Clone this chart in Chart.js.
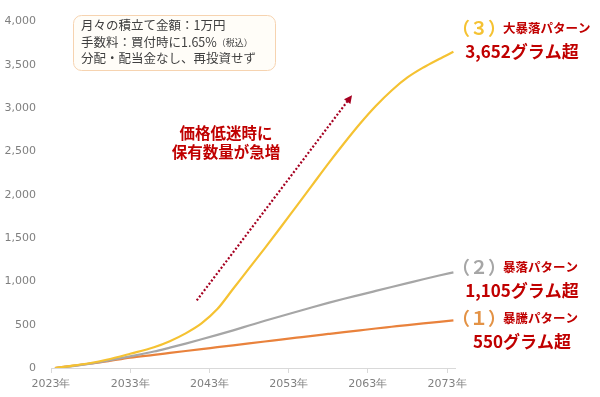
<!DOCTYPE html>
<html>
<head>
<meta charset="utf-8">
<script src="https://cdn.jsdelivr.net/npm/chart.js@4.4.1/dist/chart.umd.min.js"></script>
<style>
  html, body { margin: 0; padding: 0; background: #fff; }
  #wrap { width: 600px; height: 397px; }
</style>
</head>
<body>
<div id="wrap"><canvas id="goldChart" width="600" height="397"></canvas></div>
<script>
// Years (x positions of the readings)
const years = [2023.5, 2026, 2028, 2030, 2033, 2036, 2038, 2040, 2042, 2044, 2046, 2048, 2050,
               2052, 2054, 2056, 2058, 2060, 2062, 2064, 2066, 2068, 2070, 2072, 2073.8];

// Holdings in grams for each pattern
const crashBig = [0, 30, 58, 95, 165, 240, 310, 400, 515, 680, 915, 1150, 1385,
                  1625, 1870, 2115, 2360, 2595, 2820, 3025, 3205, 3355, 3470, 3568, 3652];
const crash    = [0, 25, 50, 82, 135, 190, 235, 282, 332, 383, 435, 490, 545,
                  598, 650, 702, 752, 800, 845, 890, 935, 980, 1025, 1068, 1105];
const surge    = [0, 28, 52, 77, 120, 152, 174, 196, 218, 240, 262, 284, 306,
                  328, 350, 372, 393, 414, 435, 456, 476, 496, 515, 533, 550];

// Axis ticks
const xTicks = [2023, 2033, 2043, 2053, 2063, 2073];
const yMax = 4000;
const yStep = 500;

// Arrow (in data units)
const arrowFrom = { x: 2041.4, y: 780 };
const arrowTo = { x: 2061.0, y: 3150 };

const ctx = document.getElementById('goldChart').getContext('2d');

const toPoints = vals => vals.map((v, i) => ({ x: years[i], y: v }));

const jp = '"Noto Sans CJK JP", sans-serif';

// Draws the note box, the red caption, the arrow and the end labels
const notes = {
    id: 'notes',
    afterDraw(chart) {
        const c = chart.ctx;
        const xs = chart.scales.x, ys = chart.scales.y;
        c.save();

        // conditions box
        c.beginPath();
        c.roundRect(73.5, 15.5, 202, 55, 8);
        c.fillStyle = '#fffdf8';
        c.fill();
        c.strokeStyle = '#f6d3b0';
        c.lineWidth = 1;
        c.stroke();
        c.fillStyle = '#404040';
        c.textBaseline = 'middle';
        c.textAlign = 'left';
        c.font = '12.5px ' + jp;
        c.fillText('月々の積立て金額：1万円', 81, 25);
        c.fillText('手数料：買付時に1.65%', 81, 42);
        c.fillText('分配・配当金なし、再投資せず', 81, 58);
        const w = c.measureText('手数料：買付時に1.65%').width;
        c.font = '9px ' + jp;
        c.fillText('（税込）', 81 + w, 43);

        // red caption
        c.fillStyle = '#c00000';
        c.textAlign = 'center';
        c.font = 'bold 15.5px ' + jp;
        c.fillText('価格低迷時に', 226, 133);
        c.fillText('保有数量が急増', 226, 152);

        // dotted arrow
        const x1 = xs.getPixelForValue(arrowFrom.x), y1 = ys.getPixelForValue(arrowFrom.y);
        const x2 = xs.getPixelForValue(arrowTo.x), y2 = ys.getPixelForValue(arrowTo.y);
        const ang = Math.atan2(y2 - y1, x2 - x1);
        c.strokeStyle = '#a50021';
        c.lineWidth = 2.2;
        c.setLineDash([2, 2]);
        c.beginPath();
        c.moveTo(x1, y1);
        c.lineTo(x2 - 5 * Math.cos(ang), y2 - 5 * Math.sin(ang));
        c.stroke();
        c.setLineDash([]);
        c.fillStyle = '#a50021';
        c.beginPath();
        c.moveTo(x2, y2);
        c.lineTo(x2 - 8 * Math.cos(ang) + 4 * Math.sin(ang), y2 - 8 * Math.sin(ang) - 4 * Math.cos(ang));
        c.lineTo(x2 - 8 * Math.cos(ang) - 4 * Math.sin(ang), y2 - 8 * Math.sin(ang) + 4 * Math.cos(ang));
        c.closePath();
        c.fill();

        // end labels
        const ends = [
            { tag: '（３）', color: '#f5c232', name: '大暴落パターン', total: '3,652グラム超', y: 28 },
            { tag: '（２）', color: '#a6a6a6', name: '暴落パターン', total: '1,105グラム超', y: 267 },
            { tag: '（１）', color: '#e39245', name: '暴騰パターン', total: '550グラム超', y: 318 }
        ];
        ends.forEach(e => {
            c.textAlign = 'left';
            c.fillStyle = e.color;
            c.font = 'bold 18px ' + jp;
            c.fillText(e.tag, 452, e.y);
            c.fillStyle = '#c00000';
            c.font = 'bold 12.5px ' + jp;
            c.fillText(e.name, 503, e.y);
            c.textAlign = 'center';
            c.font = 'bold 17px ' + jp;
            c.fillText(e.total, 522, e.y + 24);
        });

        c.restore();
    }
};

const goldChart = new Chart(ctx, {
    type: 'line',
    data: {
        datasets: [
            { label: '大暴落パターン', data: toPoints(crashBig), borderColor: '#f5c232' },
            { label: '暴落パターン', data: toPoints(crash), borderColor: '#a6a6a6' },
            { label: '暴騰パターン', data: toPoints(surge), borderColor: '#e9823c' }
        ]
    },
    options: {
        responsive: false,
        animation: false,
        layout: { padding: { top: 17, right: 145, left: 0, bottom: 0 } },
        elements: {
            point: { radius: 0 },
            line: { borderWidth: 2.2, cubicInterpolationMode: 'monotone', fill: false }
        },
        plugins: { legend: { display: false }, tooltip: { enabled: false } },
        scales: {
            x: {
                type: 'linear',
                min: 2023,
                max: 2074,
                afterBuildTicks: scale => { scale.ticks = xTicks.map(v => ({ value: v })); },
                afterFit: scale => { scale.height = 29; },
                grid: { drawOnChartArea: false, drawTicks: true, tickLength: 5, color: '#d9d9d9' },
                border: { color: '#d9d9d9' },
                ticks: {
                    padding: 5,
                    color: '#7f7f7f',
                    font: { family: '"DejaVu Sans", sans-serif', size: 11 },
                    callback: v => v + '年',
                    maxRotation: 0
                }
            },
            y: {
                min: 0,
                max: yMax,
                afterFit: scale => { scale.width = 51; },
                grid: { display: false, drawTicks: false },
                border: { display: false },
                ticks: {
                    stepSize: yStep,
                    padding: 15,
                    color: '#7f7f7f',
                    font: { family: '"DejaVu Sans", sans-serif', size: 11 },
                    callback: v => v.toLocaleString('en-US')
                }
            }
        }
    },
    plugins: [notes]
});
</script>
</body>
</html>
